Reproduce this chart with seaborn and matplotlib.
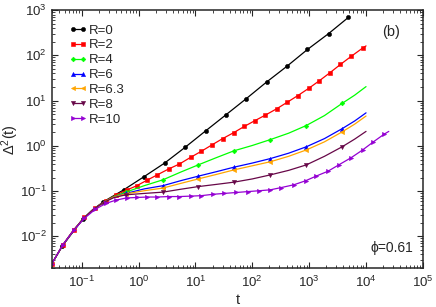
import matplotlib
matplotlib.use('Agg')
import matplotlib.pyplot as plt
from matplotlib.lines import Line2D
import seaborn as sns

# values (log-log MSD curves)
t_r0 = [0.030, 0.046, 0.105, 0.158, 0.24, 0.55, 1.26, 2.9, 6.6, 15.1, 34, 78, 178, 407, 933, 2190, 4900]
d_r0 = [0.0025, 0.0062, 0.024, 0.039, 0.058, 0.107, 0.21, 0.42, 0.93, 2.14, 4.8, 11.0, 25.7, 57.5, 135, 302, 692]

t_r2 = [0.030, 0.047, 0.072, 0.112, 0.174, 0.269, 0.398, 0.617, 0.933, 1.41, 2.14, 3.39, 5.25, 8.32,
        12.7, 19.5, 30.2, 46.8, 72.4, 112, 170, 269, 407, 631, 977, 1510, 2340, 3550, 5500, 8710, 10000]
d_r2 = [0.0025, 0.0066, 0.0138, 0.0263, 0.0417, 0.0617, 0.0813, 0.105, 0.132, 0.174, 0.229, 0.309, 0.398, 0.562,
        0.759, 1.05, 1.45, 1.95, 2.69, 3.63, 4.79, 6.61, 9.12, 12.9, 18.6, 27.5, 41.7, 63.1, 95.5, 145, 162]

t_mid = [0.030, 0.046, 0.069, 0.105, 0.158, 0.24, 0.37, 0.60, 1.26, 2.69, 5.5, 11.2, 23.4, 47.9,
         100, 209, 437, 891, 1862, 3800, 6310, 10000]
d_r4 = [0.0025, 0.0062, 0.0126, 0.024, 0.039, 0.056, 0.076, 0.095, 0.132, 0.178, 0.263, 0.38, 0.55, 0.78,
        1.02, 1.38, 1.91, 2.82, 4.68, 8.7, 13.2, 20.4]
d_r6 = [0.0025, 0.0062, 0.0126, 0.024, 0.039, 0.056, 0.074, 0.089, 0.112, 0.132, 0.170, 0.214, 0.269, 0.339,
        0.417, 0.525, 0.69, 0.955, 1.45, 2.40, 3.55, 5.37]
d_r63 = [0.0025, 0.0062, 0.0126, 0.024, 0.039, 0.056, 0.074, 0.087, 0.102, 0.117, 0.148, 0.186, 0.234, 0.295,
         0.363, 0.447, 0.589, 0.813, 1.23, 2.04, 3.02, 4.57]
d_r8 = [0.0025, 0.0062, 0.0126, 0.024, 0.039, 0.056, 0.072, 0.083, 0.089, 0.095, 0.110, 0.126, 0.141, 0.158,
        0.186, 0.229, 0.288, 0.38, 0.589, 0.955, 1.41, 2.09]

t_r10 = [0.030, 0.047, 0.072, 0.112, 0.174, 0.269, 0.398, 0.617, 0.933, 1.41, 2.14, 3.39, 5.25, 8.32, 12.7,
         20.4, 32.4, 52.5, 83.2, 132, 209, 324, 537, 871, 1318, 2138, 3311, 5495, 8710, 13490, 20890, 25120]
d_r10 = [0.0025, 0.0066, 0.0135, 0.0251, 0.0398, 0.0537, 0.0631, 0.0708, 0.0724, 0.0741, 0.0741, 0.0759, 0.0759,
         0.0776, 0.0794, 0.0851, 0.0891, 0.0933, 0.0977, 0.102, 0.107, 0.120, 0.138, 0.170, 0.214, 0.275, 0.380,
         0.550, 0.813, 1.23, 1.82, 2.09]

labels = ['R=0', 'R=2', 'R=4', 'R=6', 'R=6.3', 'R=8', 'R=10']
colors = ['black', '#ff0000', '#00ff00', '#0000ff', '#ffa500', '#670748', '#9400d3']
markers = ['o', 's', 'D', '^', '<', 'v', '>']
msizes = [3.0, 2.6, 2.4, 3.0, 3.0, 3.0, 3.0]

x_ticks = [1e-1, 1e0, 1e1, 1e2, 1e3, 1e4, 1e5]
y_ticks = [1e-2, 1e-1, 1e0, 1e1, 1e2, 1e3]

mid_marks = [7, 9, 11, 13, 15, 17, 19]
series = [
    (t_r0, d_r0, [1, 2, 4] + list(range(5, 17))),
    (t_r2, d_r2, list(range(0, 30))),
    (t_mid, d_r4, mid_marks),
    (t_mid, d_r6, mid_marks),
    (t_mid, d_r63, mid_marks),
    (t_mid, d_r8, mid_marks),
    (t_r10, d_r10, list(range(0, 31))),
]

sns.set_style('ticks')
plt.rcParams['font.family'] = ['Liberation Sans', 'DejaVu Sans']
plt.rcParams['mathtext.fontset'] = 'custom'
plt.rcParams['mathtext.rm'] = 'Liberation Sans'
plt.rcParams['mathtext.it'] = 'Liberation Sans:italic'

fig = plt.figure(figsize=(4.36, 3.07), dpi=100)
ax = fig.add_axes([0.119, 0.127, 0.851, 0.840])

handles = []
for (t, d, idx), lab, c, m, ms in zip(series, labels, colors, markers, msizes):
    sns.lineplot(x=t, y=d, ax=ax, color=c, marker=m, markevery=idx, markersize=ms,
                 markeredgecolor=c, markeredgewidth=0.4, linewidth=0.9,
                 estimator=None, sort=False)
    handles.append(Line2D([], [], color=c, marker=m, markersize=ms, markeredgecolor=c,
                          markeredgewidth=0.4, linewidth=0.9, label=lab))

ax.set_xscale('log')
ax.set_yscale('log')
ax.set_xticks(x_ticks)
ax.set_yticks(y_ticks)
ax.set_xlim(0.03, 1e5)
ax.set_ylim(0.002, 1e3)

ax.tick_params(which='both', direction='in', top=True, right=True, labelsize=9.5)
ax.tick_params(axis='x', which='major', pad=5)
ax.tick_params(which='major', length=4, width=0.8)
ax.tick_params(which='minor', length=2.2, width=0.6)
for s in ax.spines.values():
    s.set_linewidth(1.1)

ax.set_xlabel('t', fontsize=10.5)
ax.xaxis.set_label_coords(0.5, -0.095)
ax.set_ylabel(r'$\Delta^2$(t)', fontsize=10.5)
ax.yaxis.set_label_coords(-0.082, 0.5)

ax.legend(handles=handles, loc='upper left', bbox_to_anchor=(0.04, 0.955), frameon=False,
          fontsize=9.5, numpoints=2, handlelength=1.3, handletextpad=0.2, labelspacing=0.2,
          borderaxespad=0, borderpad=0.2)

ax.text(0.915, 0.915, '(b)', transform=ax.transAxes, fontsize=10.5, ha='center', va='center')
ax.text(0.975, 0.078, 'ϕ=0.61', transform=ax.transAxes, fontsize=10, ha='right', va='center')

fig.savefig('out.png', dpi=100)
